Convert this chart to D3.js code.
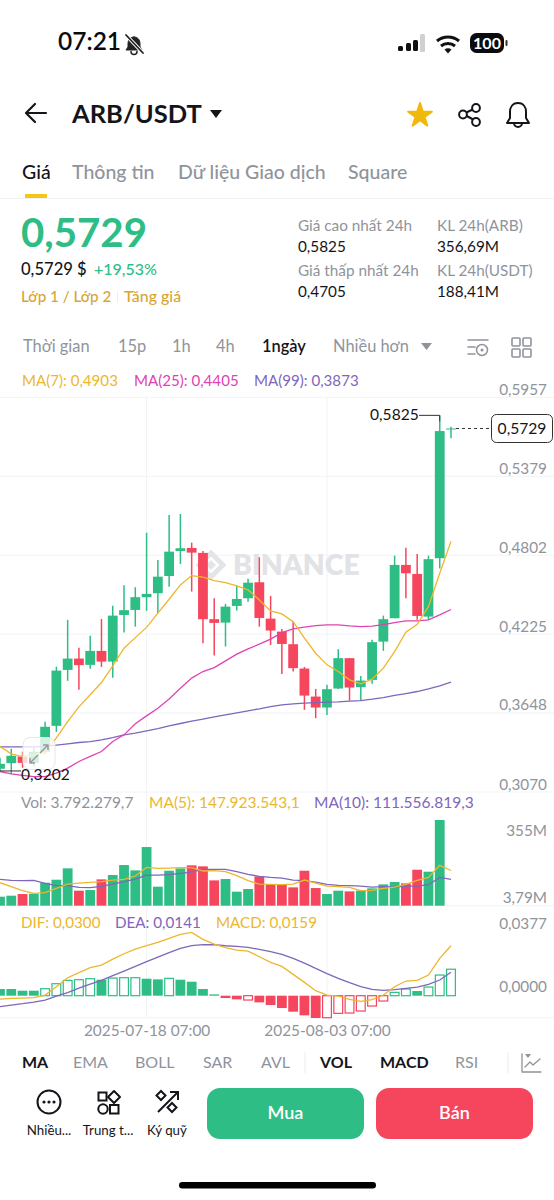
<!DOCTYPE html>
<html lang="vi"><head><meta charset="utf-8"><title>ARB/USDT</title>
<script src="https://cdn.jsdelivr.net/npm/d3@7/dist/d3.min.js"></script>
<style>html,body{margin:0;background:#fff}svg{display:block}text{font-family:Lato,"Open Sans","Noto Sans",sans-serif;font-variant-numeric:tabular-nums}</style>
</head><body><svg id="c" width="554" height="1200" viewBox="0 0 554 1200"></svg>
<script>
const startDate = "2025-07-05";
const opens  = [.3240,.3281,.3330,.3283,.3364,.3554,.3963,.4046,.4000,.4102,.4024,.4365,.4402,.4495,.4524,.4650,.4833,.4855,.4819,.4334,.4309,.4431,.4487,.4604,.4338,.4243,.4151,.3973,.3768,.3688,.3827,.4049,.3837,.3890,.4170,.4341,.4731,.4665,.4353,.4780,.5722];
const highs  = [.3320,.3386,.3364,.3393,.3583,.3987,.4329,.4126,.4212,.4336,.4433,.4582,.4568,.4967,.4767,.5096,.5104,.4894,.4833,.4487,.4446,.4577,.4629,.4787,.4504,.4263,.4316,.3985,.3824,.3854,.4115,.4049,.3919,.4183,.4360,.4799,.4857,.4811,.4799,.5825,.5742];
const lows   = [.3218,.3202,.3247,.3254,.3349,.3510,.3883,.3817,.3971,.3985,.3905,.4236,.4280,.4395,.4378,.4572,.4738,.4536,.4158,.4068,.4134,.4397,.4462,.4280,.4146,.3934,.3951,.3671,.3610,.3634,.3824,.3739,.3739,.3861,.4102,.4341,.4487,.4329,.4329,.4705,.5657];
const closes = [.3276,.3335,.3283,.3364,.3547,.3958,.4046,.3998,.4102,.4024,.4360,.4400,.4495,.4519,.4645,.4828,.4853,.4821,.4334,.4307,.4426,.4482,.4601,.4343,.4251,.4153,.3976,.3775,.3688,.3822,.4049,.3834,.3885,.4166,.4334,.4731,.4670,.4358,.4773,.5710,.5729];
const ma7  = [.3403,.3349,.3329,.3342,.3359,.3466,.3585,.3693,.3781,.3871,.3993,.4122,.4199,.4274,.4378,.4480,.4585,.4653,.4641,.4616,.4601,.4577,.4548,.4475,.4395,.4373,.4316,.4195,.4085,.4000,.3951,.3890,.3861,.3895,.3976,.4097,.4239,.4297,.4426,.4670,.4903];
const ma25 = [.3220,.3203,.3191,.3183,.3183,.3208,.3245,.3293,.3330,.3366,.3439,.3488,.3569,.3627,.3683,.3751,.3829,.3903,.3951,.3980,.4029,.4078,.4117,.4151,.4188,.4236,.4263,.4276,.4287,.4292,.4292,.4285,.4280,.4283,.4295,.4309,.4321,.4321,.4329,.4365,.4405];
const ma99 = [.3400,.3400,.3400,.3400,.3403,.3413,.3422,.3432,.3439,.3452,.3468,.3488,.3500,.3517,.3534,.3554,.3571,.3588,.3603,.3620,.3634,.3649,.3664,.3678,.3695,.3707,.3715,.3720,.3724,.3727,.3729,.3735,.3739,.3749,.3761,.3776,.3790,.3805,.3825,.3847,.3873];
const volumes = [40.7,44.8,51.6,53.0,98.0,110.3,156.8,65.3,68.0,111.7,129.5,170.4,148.6,244.2,81.7,147.2,156.8,169.1,165,107.6,113.1,61.2,72.1,124,91.2,92.6,78.9,147.2,76.2,51.6,65.3,62.5,65.3,74.8,91.2,100.8,95.3,151.3,143.1,354.9,3.79];
const volMa5  = [98,81.7,65.3,54.3,57.1,74.8,92.6,96.7,99.4,102.1,109,111.7,125.4,160.9,156.8,158.1,159.5,159.5,145.9,147.2,143.1,126.7,106.2,92.6,91.2,89.9,92.6,109,96.7,84.4,81.7,78.9,65.3,66.6,74.8,80.3,91.2,107.6,119.9,169.1,147.92];
const volMa10 = [111.7,107.6,106.2,107.6,95.3,85.8,85.8,78.9,77.6,83,92.6,102.1,113.1,129.5,129.5,130.8,136.3,141.8,152.7,152.7,152.7,143.1,132.2,124,119.9,117.2,109,106.2,100.8,91.2,87.1,85.8,84.4,80.3,81.7,80.3,84.4,84.4,89.9,119.9,111.56];
const macdHist = [.0040,.0040,.0030,.0030,.0042,.0072,.0092,.0096,.0102,.0096,.0106,.0108,.0108,.0102,.0098,.0104,.0096,.0084,.0040,.0008,-.0014,-.0022,-.0026,-.0040,-.0056,-.0074,-.0096,-.0118,-.0134,-.0132,-.0106,-.0104,-.0092,-.0062,-.0032,.0020,.0040,.0028,.0052,.0124,.0159];
const macdHollow = [0,0,0,0,1,1,1,1,1,0,1,1,1,0,0,1,0,0,0,0,0,0,1,0,0,0,0,0,0,1,1,1,1,1,1,1,1,0,1,1,1];
const dif = [-.0020,-.0016,-.0014,-.0012,.0004,.0054,.0108,.0138,.0168,.0184,.0220,.0252,.0280,.0300,.0320,.0344,.0368,.0380,.0338,.0310,.0288,.0274,.0268,.0234,.0200,.0176,.0128,.0080,.0030,.0004,-.0002,-.0022,-.0034,-.0024,.0004,.0054,.0088,.0092,.0124,.0224,.0300];
const dea = [-.0066,-.0056,-.0048,-.0038,-.0026,-.0002,.0018,.0046,.0070,.0092,.0120,.0148,.0176,.0204,.0232,.0258,.0284,.0300,.0306,.0306,.0300,.0296,.0290,.0278,.0264,.0248,.0224,.0196,.0164,.0132,.0104,.0078,.0054,.0038,.0032,.0036,.0044,.0052,.0068,.0094,.0141];
const priceTicks = [.5957,.5379,.4802,.4225,.3648,.3070];
const volTicks = [355,3.79];
const macdTicks = [.0377,0];
const dateTicks = ["2025-07-18","2025-08-03"];
const indicatorTabs = [["MA",22,1],["EMA",73,0],["BOLL",135,0],["SAR",203,0],["AVL",261,0],["VOL",320,1],["MACD",380,1],["RSI",455,0]];
const timeTabs = [["Thời gian",23,0],["15p",118,0],["1h",172,0],["4h",216,0],["1ngày",262,1],["Nhiều hơn",333,0]];

const GREEN="#2EBD85",RED="#F6465D",GOLD="#EDB72C",PINK="#DF43B3",PURPLE="#7F66BD",GREY="#8F949B",GRID="#F2F3F5",INK="#14151A";
const svg=d3.select("#c");
const loc=d3.formatLocale({decimal:",",thousands:".",grouping:[3],currency:["",""]});
const f4=loc.format(".4f");
const parse=d3.utcParse("%Y-%m-%d");
const dates=opens.map((_,i)=>d3.utcDay.offset(parse(startDate),i));
const x=d3.scaleUtc().domain([dates[0],dates[40]]).range([0,451]);
const yP=d3.scaleLinear().domain([.3070,.5957]).range([792,397.3]);
const yV=d3.scaleLinear().domain([3.79,355]).range([905.7,820]);
const yM=d3.scaleLinear().domain([0,.0377]).range([995.7,932.9]);
const X=i=>x(dates[i]);
const W=9.8;
function T(s,px,py,size,fill,weight,anchor){return svg.append("text").attr("x",px).attr("y",py).attr("font-size",size).attr("fill",fill).attr("font-weight",weight||400).attr("text-anchor",anchor||"start").text(s);}
function P(d,o){const p=svg.append("path").attr("d",d).attr("fill","none").attr("stroke",INK).attr("stroke-width",2).attr("stroke-linecap","round").attr("stroke-linejoin","round");for(const k in (o||{}))p.attr(k,o[k]);return p;}

/* status bar */
T("07:21",58,50,24.5,"#0b0b0d",600);
P("M134 37c-4 0-6 3-6 7v3l-2 3h16l-2-3v-3c0-4-2-7-6-7z",{"stroke-width":1,stroke:"#222",fill:"#222"});
P("M131 51.500a3 3 0 0 0 6 0",{"stroke-width":1.5,stroke:"#222"});
P("M125 34l18 19",{"stroke-width":3.5,stroke:"#fff"});
P("M126 35l17 18",{"stroke-width":1.8,stroke:"#222"});
[[398,46,5],[406,43,8],[413,40,11]].forEach(b=>svg.append("rect").attr("x",b[0]).attr("y",b[1]).attr("width",5).attr("height",b[2]).attr("rx",1.5).attr("fill","#111"));
svg.append("rect").attr("x",420).attr("y",34).attr("width",5).attr("height",18).attr("rx",1.5).attr("fill","#d0d0d0");
P("M437 41a17 17 0 0 1 22 0M441 46a11 11 0 0 1 14 0",{"stroke-width":3,"stroke-linecap":"butt",stroke:"#111"});
svg.append("path").attr("d","M444.500 49.500a6 6 0 0 1 7 0L448 53.500z").attr("fill","#111");
svg.append("rect").attr("x",470).attr("y",33).attr("width",34).attr("height",20).attr("rx",6.5).attr("fill","#0b0b0d");
svg.append("rect").attr("x",505.5).attr("y",40).attr("width",2).attr("height",6).attr("rx",1).attr("fill","#333");
T("100",487,48.5,16,"#fff",700,"middle");

/* header */
P("M46 113H26M35 104l-9 9 9 9",{"stroke-width":2.2});
T("ARB/USDT",72,123,25.5,INK,700);
svg.append("path").attr("d","M210 110h12l-6 8z").attr("fill",INK);
svg.append("path").attr("d",d3.symbol(d3.symbolStar,175)()).attr("transform","translate(420,115.5)").attr("fill","#F0B90B").attr("stroke","#F0B90B").attr("stroke-width",2).attr("stroke-linejoin","round");
P("M476 108l-13 6 13 7",{"stroke-width":2});
[[476,108],[463,114.5],[476,122]].forEach(c=>svg.append("circle").attr("cx",c[0]).attr("cy",c[1]).attr("r",3.9).attr("fill","#fff").attr("stroke",INK).attr("stroke-width",2));
P("M518 103c-6 0-8 5-8 9v6l-3 5h22l-3-5v-6c0-4-2-9-8-9zM514 123a4 4 0 0 0 8 0",{"stroke-width":2});

/* tabs */
T("Giá",22,179,19.5,INK,500);
T("Thông tin",72,179,19.5,GREY,500);
T("Dữ liệu Giao dịch",178,179,19.5,GREY,500);
T("Square",348,179,19.5,GREY,500);
svg.append("rect").attr("x",25).attr("y",194).attr("width",22).attr("height",4).attr("fill","#F5C518");
svg.append("rect").attr("x",0).attr("y",198).attr("width",554).attr("height",1).attr("fill",GRID);

/* summary */
T("0,5729",21,247,40.2,GREEN,700);
T("0,5729 $",21,275,16.6,INK,500);
T("+19,53%",94,275,16,GREEN,500);
T("Lớp 1 / Lớp 2",21,302,15.2,"#D9A533",500);
svg.append("rect").attr("x",117).attr("y",291).attr("width",1).attr("height",11).attr("fill","#eee");
T("Tăng giá",124,302,15.9,"#D9A533",500);
[["Giá cao nhất 24h","0,5825",298,231],["Giá thấp nhất 24h","0,4705",298,276],["KL 24h(ARB)","356,69M",437,231],["KL 24h(USDT)","188,41M",437,276]].forEach(d=>{T(d[0],d[2],d[3],15.3,GREY);T(d[1],d[2],d[3]+21,15.3,INK);});

/* time bar */
timeTabs.forEach(t=>T(t[0],t[1],352,16.4,t[2]?INK:GREY,t[2]?600:400));
svg.append("path").attr("d","M421 343h11l-5.500 7z").attr("fill",GREY);
P("M468 340h20M468 347h7M468 354h7",{stroke:GREY,"stroke-width":1.5});
svg.append("circle").attr("cx",482).attr("cy",350).attr("r",5.5).attr("fill","#fff").attr("stroke",GREY).attr("stroke-width",1.5);
svg.append("circle").attr("cx",482).attr("cy",350).attr("r",1.5).attr("fill",GREY);
[[512,338],[523,338],[512,349],[523,349]].forEach(c=>svg.append("rect").attr("x",c[0]).attr("y",c[1]).attr("width",8).attr("height",8).attr("rx",1).attr("fill","none").attr("stroke",GREY).attr("stroke-width",1.6));

/* grid */
const gGrid=svg.append("g");
priceTicks.forEach(v=>gGrid.append("line").attr("x1",0).attr("x2",554).attr("y1",yP(v)).attr("y2",yP(v)).attr("stroke",GRID));
[905.7,1017.7].forEach(v=>gGrid.append("line").attr("x1",0).attr("x2",554).attr("y1",v).attr("y2",v).attr("stroke",GRID));
dateTicks.forEach(d=>{const px=x(parse(d));gGrid.append("line").attr("x1",px).attr("x2",px).attr("y1",397).attr("y2",1018).attr("stroke",GRID);});

/* legends */
T("MA(7): "+f4(ma7[40]),22,386,15.1,GOLD);
T("MA(25): "+f4(ma25[40]),134,386,15.1,PINK);
T("MA(99): "+f4(ma99[40]),254,386,15.1,PURPLE);
T("Vol: 3.792.279,7",21,808,15.5,GREY);
T("MA(5): 147.923.543,1",149,808,15.5,GOLD);
T("MA(10): 111.556.819,3",314,808,15.5,PURPLE);
T("DIF: 0,0300",21,928,15.2,GOLD);
T("DEA: 0,0141",115,928,15.2,PURPLE);
T("MACD: 0,0159",216,928,15.2,GOLD);

/* watermark */
const wm=svg.append("g").attr("fill","none").attr("stroke","#E4E5E8");
wm.append("path").attr("d","M211 553l12 12-12 12-12-12z").attr("stroke-width",5);
wm.append("path").attr("d","M211 560l5 5-5 5-5-5z").attr("fill","#E4E5E8").attr("stroke","none");
T("BINANCE",233,575,28.3,"#E2E3E6",800);

/* candles */
const idx=d3.range(opens.length);
const col=i=>closes[i]>=opens[i]?GREEN:RED;
svg.append("g").selectAll("line").data(idx).join("line").attr("x1",X).attr("x2",X).attr("y1",i=>yP(highs[i])).attr("y2",i=>yP(lows[i])).attr("stroke",col).attr("stroke-width",1.5);
svg.append("g").selectAll("rect").data(idx).join("rect").attr("x",i=>X(i)-W/2).attr("width",W)
  .attr("y",i=>yP(Math.max(opens[i],closes[i]))).attr("height",i=>Math.max(1,Math.abs(yP(opens[i])-yP(closes[i])))).attr("fill",col);
const line=(arr,y)=>d3.line().x((_,i)=>X(i)).y(d=>y(d)).curve(d3.curveLinear)(arr);
[[ma99,PURPLE],[ma25,PINK],[ma7,GOLD]].forEach(s=>svg.append("path").attr("d",line(s[0],yP)).attr("fill","none").attr("stroke",s[1]).attr("stroke-width",1.3));

/* overlay zoom button */
svg.append("rect").attr("x",23).attr("y",737.5).attr("width",32).attr("height",32).attr("rx",7).attr("fill","#fff").attr("fill-opacity",.78).attr("stroke","#e6e6e6");
P("M30 763l8-8M30 758v5h5M40 753l8-8M43 745h5v5",{stroke:"#9a9a9a","stroke-width":1.5,"stroke-linecap":"butt"});

/* price annotations */
const hiY=yP(d3.max(highs)),loY=yP(d3.min(lows)),lastY=yP(closes[40]);
T(f4(d3.max(highs)),370,hiY+5,15.6,INK);
svg.append("path").attr("d",`M419 ${hiY}H${X(39)}V${hiY+6}`).attr("fill","none").attr("stroke","#333");
T(f4(d3.min(lows)),21,loY+6,15.6,INK);
svg.append("line").attr("x1",0).attr("x2",21).attr("y1",loY-3).attr("y2",loY-3).attr("stroke","#333");
svg.append("line").attr("x1",456).attr("x2",491).attr("y1",lastY).attr("y2",lastY).attr("stroke","#333").attr("stroke-dasharray","3 3");
svg.append("rect").attr("x",491.5).attr("y",414.5).attr("width",61).attr("height",28).attr("rx",5).attr("fill","#fff").attr("stroke","#333");
T(f4(closes[40]),522,434,15.6,INK,400,"middle");

/* volume */
const vb=svg.append("g");
vb.selectAll("rect").data(idx).join("rect").attr("x",i=>X(i)-W/2).attr("width",W).attr("y",i=>yV(volumes[i])).attr("height",i=>yV(3.79)-yV(volumes[i])).attr("fill",col);
[[volMa10,PURPLE],[volMa5,GOLD]].forEach(s=>svg.append("path").attr("d",line(s[0],yV)).attr("fill","none").attr("stroke",s[1]).attr("stroke-width",1.3));

/* macd */
svg.append("g").selectAll("rect").data(idx).join("rect")
  .attr("x",i=>X(i)-W/2+(macdHollow[i]?.5:0)).attr("width",i=>W-(macdHollow[i]?1:0))
  .attr("y",i=>Math.min(yM(macdHist[i]),yM(0))).attr("height",i=>Math.abs(yM(macdHist[i])-yM(0)))
  .attr("fill",i=>macdHollow[i]?"#fff":(macdHist[i]>=0?GREEN:RED)).attr("stroke",i=>macdHist[i]>=0?GREEN:RED).attr("stroke-width",i=>macdHollow[i]?1.2:0);
[[dea,PURPLE],[dif,GOLD]].forEach(s=>svg.append("path").attr("d",line(s[0],yM)).attr("fill","none").attr("stroke",s[1]).attr("stroke-width",1.3));

/* axes */
function rightAxis(scale,ticks,fmt){
  const g=svg.append("g").attr("transform","translate(547,0)").call(d3.axisRight(scale).tickValues(ticks).tickSize(0).tickFormat(fmt));
  g.select(".domain").remove();
  g.selectAll("text").attr("x",0).attr("dy","-3").attr("text-anchor","end").attr("fill",GREY).attr("font-size",15.3).attr("font-family",null);
  return g;
}
rightAxis(yP,priceTicks,f4);
rightAxis(yV,volTicks,d=>d===355?"355M":"3,79M").selectAll("text").attr("dy",(d)=>d===355?"15":"-3");
rightAxis(yM,macdTicks,f4).selectAll("text").attr("dy","-4");
const xa=svg.append("g").attr("transform","translate(0,1023)").call(d3.axisBottom(x).tickValues(dateTicks.map(parse)).tickSize(0).tickFormat(d=>d3.utcFormat("%Y-%m-%d")(d)+" 07:00"));
xa.select(".domain").remove();
xa.selectAll("text").attr("y",0).attr("dy","13").attr("fill",GREY).attr("font-size",15.4).attr("font-family",null);

/* indicator tabs */
indicatorTabs.forEach(t=>T(t[0],t[1],1068,16,t[2]?INK:GREY,t[2]?700:400));
[[305,1052,1073],[508,1052,1073]].forEach(s=>svg.append("line").attr("x1",s[0]).attr("x2",s[0]).attr("y1",s[1]).attr("y2",s[2]).attr("stroke","#ececec"));
P("M522 1054v18h19M525 1067l5-5 3 3 7-6",{stroke:GREY,"stroke-width":1.3});
svg.append("path").attr("d","M525 1054h6l-3 4z").attr("fill",GREY);

/* toolbar */
svg.append("circle").attr("cx",49).attr("cy",1102).attr("r",11.5).attr("fill","none").attr("stroke",INK).attr("stroke-width",2);
[44,49,54].forEach(c=>svg.append("circle").attr("cx",c).attr("cy",1102).attr("r",1.6).attr("fill",INK));
svg.append("rect").attr("x",98.5).attr("y",1092.5).attr("width",8).attr("height",8).attr("fill","none").attr("stroke",INK).attr("stroke-width",2);
svg.append("path").attr("d","M114 1091l6 6-6 6-6-6z").attr("fill","none").attr("stroke",INK).attr("stroke-width",2).attr("stroke-linejoin","round");
svg.append("circle").attr("cx",103).attr("cy",1109).attr("r",4.7).attr("fill","none").attr("stroke",INK).attr("stroke-width",2);
svg.append("rect").attr("x",110).attr("y",1105).attr("width",8.5).attr("height",8.5).attr("fill","none").attr("stroke",INK).attr("stroke-width",2);
P("M158 1112l20-20M170 1092h8v8",{"stroke-width":2,"stroke-linecap":"butt","stroke-linejoin":"miter"});
svg.append("path").attr("d","M161 1091l4.500 4.500-4.500 4.500-4.500-4.500zM172 1103l4.500 4.500-4.500 4.500-4.500-4.500z").attr("fill","none").attr("stroke",INK).attr("stroke-width",2);
T("Nhiều...",49,1135,13.3,INK,400,"middle");
T("Trung t...",108,1135,13.3,INK,400,"middle");
T("Ký quỹ",167,1135,13.3,INK,400,"middle");
svg.append("rect").attr("x",207).attr("y",1088).attr("width",157).attr("height",51).attr("rx",13).attr("fill",GREEN);
svg.append("rect").attr("x",376).attr("y",1088).attr("width",157).attr("height",51).attr("rx",13).attr("fill",RED);
T("Mua",285.5,1119,18,"#fff",600,"middle");
T("Bán",454.5,1119,18,"#fff",600,"middle");
svg.append("rect").attr("x",179).attr("y",1182).attr("width",197).attr("height",6.500).attr("rx",3.2).attr("fill","#000");
</script></body></html>
